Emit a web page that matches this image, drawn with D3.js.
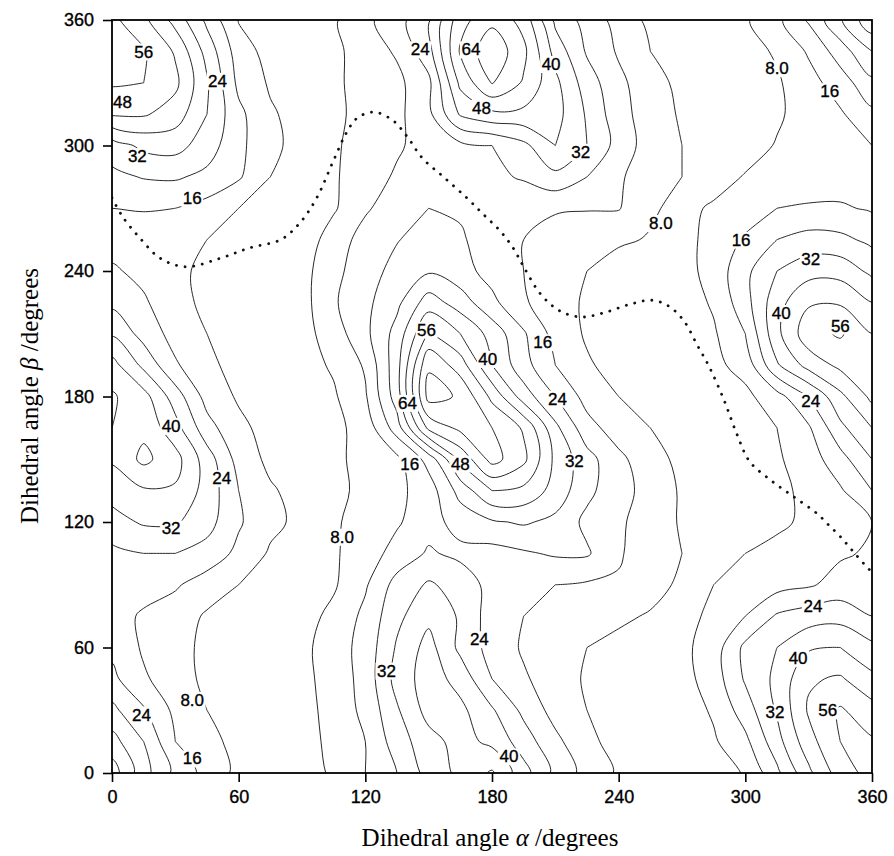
<!DOCTYPE html>
<html>
<head>
<meta charset="utf-8">
<script src="https://cdn.jsdelivr.net/npm/d3@7"></script>
<style>
body { margin: 0; background: #fff; }
.contour { fill: none; stroke: #111; stroke-width: 0.9px; }
.minpath { fill: none; stroke: #111; stroke-width: 2.8px; stroke-linecap: round; stroke-dasharray: 0.1 8.6; }
.frame { fill: none; stroke: #000; stroke-width: 1.8px; }
.tick line { stroke: #000; stroke-width: 1.6px; }
.tick text { font: 18px "Liberation Sans", Arial, sans-serif; fill: #000; stroke: #000; stroke-width: 0.35px; }
.clab { font: 17px "Liberation Sans", Arial, sans-serif; fill: #000; stroke: #000; stroke-width: 0.35px; }
.title { font: 25px "Liberation Serif", "Times New Roman", serif; fill: #000; }
</style>
</head>
<body>
<script>
// dihedral angle alpha of each grid column, beta of each grid row (top row first)
var alphaGrid = [0, 15, 30, 45, 60, 75, 90, 105, 120, 135, 150, 165, 180, 195, 210, 225, 240, 255, 270, 285, 300, 315, 330, 345, 360];
var betaGrid  = [360, 345, 330, 315, 300, 285, 270, 255, 240, 225, 210, 195, 180, 165, 150, 135, 120, 105, 90, 75, 60, 45, 30, 15, 0];

// energy, one row per beta
var e360 = [58, 50, 37, 22, 7.5, 5, 4, 7, 14, 21, 31, 53, 62, 53, 30, 21, 13, 6, 4, 4, 7, 14, 25, 39, 54];
var e345 = [60, 57, 47, 29, 12, 5, 4, 6, 12, 17, 29, 57, 70, 58, 37, 23, 15, 8, 5, 4, 5, 9, 17, 28, 40];
var e330 = [57, 56, 50, 33, 14, 7, 4, 6, 12, 14, 22, 50, 64.5, 55, 42, 28, 18, 11, 6, 4, 4, 7, 13, 20, 30];
var e315 = [49, 49, 44, 32, 18, 9, 5, 6, 11, 14, 22, 41, 46, 46, 43, 31, 19, 12, 7, 4, 4, 7, 11, 15, 22];
var e300 = [28, 34, 35, 28, 18, 10, 5, 7, 11, 15, 19, 22, 24, 30, 40, 32, 21, 12, 8, 5, 5, 8.5, 11, 13.5, 16];
var e285 = [22, 24.5, 25, 22, 17, 8, 4, 7, 12.5, 17, 20, 21, 22, 25, 30, 24, 17, 12, 8, 5, 8.5, 10, 11, 12, 13];
var e270 = [16, 16.5, 16, 13, 8, 5, 3, 7, 15, 20, 24, 23, 21, 17, 16.5, 16.5, 16.5, 9, 6, 9, 12, 16, 17, 17, 15];
var e255 = [13, 12, 11, 8, 5, 3, 3, 12, 19, 23.5, 28, 25, 20, 16, 14, 11, 9, 7.5, 5, 11, 17, 24, 27, 26, 22];
var e240 = [17, 14, 10, 6, 4, 3, 5, 14, 20, 27, 31, 27, 21, 16, 12, 8, 5, 4, 5, 11, 22, 32, 37, 37, 30];
var e225 = [22, 17, 11, 6, 3, 3, 5, 15, 22, 30, 44, 36, 26, 17, 11, 7, 4, 3, 4, 9, 21, 37, 47, 47, 40];
var e210 = [31, 21, 13, 8, 4, 3, 5, 12, 22, 35, 57, 48, 37, 25, 13, 7, 4, 3, 4, 7, 16, 38, 53, 57, 48];
var e195 = [43, 30, 17, 10, 5, 3, 5, 9, 17, 37, 71, 60, 40, 27, 16, 9, 5, 3, 3, 6, 11, 31, 43, 50, 51];
var e180 = [49, 43, 28, 13, 7, 4, 6, 7, 15, 36, 75, 71, 54, 36, 24, 13, 8, 4, 3, 4, 6, 13, 24, 38, 50];
var e165 = [48, 46, 35, 19, 10, 5, 5, 6, 11, 28, 58, 66, 64, 55, 34, 19, 12, 8, 4, 3, 4, 8, 15, 30, 40];
var e150 = [41, 50, 43, 28, 13, 6, 4, 6, 11, 14, 27, 50, 67, 58, 38, 27, 18, 11, 6, 3, 4, 7, 12, 21, 32];
var e135 = [35, 39, 39, 29, 16, 9, 5, 6, 10, 14, 20, 35, 48, 46, 37, 26, 19, 13, 7, 4, 4, 6, 10, 15, 24];
var e120 = [29, 33, 33, 27, 17, 10, 6, 7, 11, 15, 21, 27, 31, 33, 30, 22, 17, 13, 7, 4, 4, 6, 10, 13, 16];
var e105 = [22, 24, 24, 21, 14, 7, 5, 7, 12, 19, 25, 22, 21, 23, 25, 25, 17, 11, 8, 6, 8, 11, 13, 15, 17];
var e90  = [20, 19, 17, 12, 8, 4, 4, 7, 15, 27, 33, 29, 21, 17, 16, 15, 15, 12, 6, 8, 11, 13, 15, 19, 21];
var e75  = [19, 15, 12, 7, 4, 3, 5, 10, 18, 30, 38, 31, 20, 16, 13, 11, 10, 7, 5, 10, 16, 25, 28, 29, 24];
var e60  = [22, 15, 11, 6, 3, 3, 6, 12, 19, 33, 43, 30, 21, 15, 12, 8, 5, 4, 6, 12, 26, 32, 39, 40, 34];
var e45  = [26, 17, 12, 6, 3, 3, 6, 11, 19, 35, 44, 37, 24, 17, 12, 7, 4, 3, 5, 12, 25, 34, 47, 49, 42];
var e30  = [34, 25, 14, 8, 3, 2, 5, 11, 18, 31, 43, 42, 33, 22, 13, 8, 4, 3, 4, 9, 20, 33, 49, 57, 51];
var e15  = [43, 32, 16, 10, 6, 3, 5, 10, 16, 28, 37, 43, 38, 28, 18, 10, 5, 3, 4, 7, 14, 29, 45, 56, 57];
var e0   = [52, 35, 22, 13, 6, 3, 5, 9, 16, 24, 35, 42, 49, 35, 22, 13, 7, 4, 3, 5, 8.5, 22, 38, 52, 59];

var levels = [8, 16, 24, 32, 40, 48, 56, 64, 72];

// labels written on the contour lines: alpha, beta, text
var contourLabels = [
  [15, 345, "56"], [5, 321, "48"], [50, 331, "24"], [12, 295, "32"], [38, 275, "16"],
  [146, 346, "24"], [170, 346, "64"], [208, 339, "40"], [175, 318, "48"], [222, 297, "32"],
  [315, 337, "8.0"], [340, 326, "16"], [260, 263, "8.0"], [298, 255, "16"], [331, 246, "32"],
  [149, 212, "56"], [178, 198, "40"], [204, 206, "16"], [140, 177, "64"], [211, 179, "24"],
  [219, 149, "32"], [165, 148, "48"], [141, 148, "16"],
  [28, 166, "40"], [52, 141, "24"], [28, 117, "32"],
  [317, 220, "40"], [345, 214, "56"], [331, 178, "24"],
  [109, 113, "8.0"], [38, 35, "8.0"], [14, 28, "24"], [38, 7, "16"],
  [130, 49, "32"], [174, 64, "24"], [188, 8, "40"],
  [332, 80, "24"], [325, 55, "40"], [314, 29, "32"], [339, 30, "56"]
];

// dotted minimum energy path: alpha, beta
var minPath = [
  [0, 275], [5, 266], [13, 256], [23, 246], [35, 242], [51, 246], [65, 251], [80, 255],
  [89, 263], [97, 275], [105, 293], [111, 306], [116, 313], [124, 316], [133, 312],
  [140, 304], [147, 294], [157, 285], [168, 275], [176, 267], [184, 259], [190, 251],
  [195, 242], [203, 229], [212, 221], [222, 218], [233, 220], [245, 224], [256, 226],
  [264, 223], [271, 216], [277, 205], [283, 194], [290, 178], [296, 162], [302, 149],
  [312, 140], [323, 132], [334, 124], [339, 119], [345, 113], [351, 106], [358, 98], [360, 96]
];

var alphaTicks = [0, 60, 120, 180, 240, 300, 360];
var betaTicks = [0, 60, 120, 180, 240, 300, 360];

var width = 894, height = 856;

var x = d3.scaleLinear().domain([0, 360]).range([112, 872]);
var y = d3.scaleLinear().domain([0, 360]).range([773, 20]);

var svg = d3.select("body").append("svg")
    .attr("width", width)
    .attr("height", height);

svg.append("defs").append("clipPath")
    .attr("id", "plotClip")
  .append("rect")
    .attr("x", x(0))
    .attr("y", y(360))
    .attr("width", x(360) - x(0))
    .attr("height", y(0) - y(360));

var plot = svg.append("g").attr("clip-path", "url(#plotClip)");

// contour lines
var rows = [e360, e345, e330, e315, e300, e285, e270, e255, e240, e225, e210, e195, e180,
            e165, e150, e135, e120, e105, e90, e75, e60, e45, e30, e15, e0];
var nx = alphaGrid.length, ny = betaGrid.length;
var values = [];
rows.forEach(function(r) { values = values.concat(r); });

var contours = d3.contours().size([nx, ny]).thresholds(levels)(values);

// grid cell centres sit at i + 0.5
var gx = d3.scaleLinear().domain([0.5, nx - 0.5]).range([x(alphaGrid[0]), x(alphaGrid[nx - 1])]);
var gy = d3.scaleLinear().domain([0.5, ny - 0.5]).range([y(betaGrid[0]), y(betaGrid[ny - 1])]);

var ringLine = d3.line()
    .x(function(p) { return gx(p[0]); })
    .y(function(p) { return gy(p[1]); })
    .curve(d3.curveCatmullRomClosed.alpha(0.5));

contours.forEach(function(c) {
  c.coordinates.forEach(function(poly) {
    poly.forEach(function(ring) {
      plot.append("path")
          .attr("class", "contour")
          .attr("d", ringLine(ring.slice(0, -1)));
    });
  });
});

// dotted path
plot.append("path")
    .datum(minPath)
    .attr("class", "minpath")
    .attr("d", d3.line()
        .x(function(d) { return x(d[0]); })
        .y(function(d) { return y(d[1]); })
        .curve(d3.curveCatmullRom.alpha(0.5)));

// contour labels with white knock-out
var lab = plot.selectAll(".lab")
    .data(contourLabels)
    .enter().append("g")
    .attr("class", "lab")
    .attr("transform", function(d) { return "translate(" + x(d[0]) + "," + y(d[1]) + ")"; });

lab.append("text")
    .attr("class", "clab")
    .attr("text-anchor", "middle")
    .attr("dy", "0.36em")
    .text(function(d) { return d[2]; })
    .each(function() {
      var b = this.getBBox();
      d3.select(this.parentNode).insert("rect", "text")
          .attr("x", b.x - 1.5)
          .attr("y", b.y + 1)
          .attr("width", b.width + 3)
          .attr("height", b.height - 2)
          .attr("fill", "#fff");
    });

// frame and axes
svg.append("rect")
    .attr("class", "frame")
    .attr("x", x(0))
    .attr("y", y(360))
    .attr("width", x(360) - x(0))
    .attr("height", y(0) - y(360));

svg.append("g")
    .attr("transform", "translate(0," + y(0) + ")")
    .call(d3.axisBottom(x).tickValues(alphaTicks).tickSize(9).tickPadding(8).tickFormat(d3.format("d")))
    .call(function(g) { g.select(".domain").remove(); });

svg.append("g")
    .attr("transform", "translate(" + x(0) + ",0)")
    .call(d3.axisLeft(y).tickValues(betaTicks).tickSize(9).tickPadding(9).tickFormat(d3.format("d")))
    .call(function(g) { g.select(".domain").remove(); });

svg.selectAll(".tick text").attr("font-family", null).attr("font-size", null);

var xt = svg.append("text")
    .attr("class", "title")
    .attr("x", 490)
    .attr("y", 846)
    .attr("text-anchor", "middle");
xt.append("tspan").text("Dihedral angle ");
xt.append("tspan").attr("font-style", "italic").text("\u03b1");
xt.append("tspan").text(" /degrees");

var yt = svg.append("text")
    .attr("class", "title")
    .attr("transform", "translate(38,396) rotate(-90)")
    .attr("text-anchor", "middle");
yt.append("tspan").text("Dihedral angle ");
yt.append("tspan").attr("font-style", "italic").text("\u03b2");
yt.append("tspan").text(" /degrees");
</script>
</body>
</html>
